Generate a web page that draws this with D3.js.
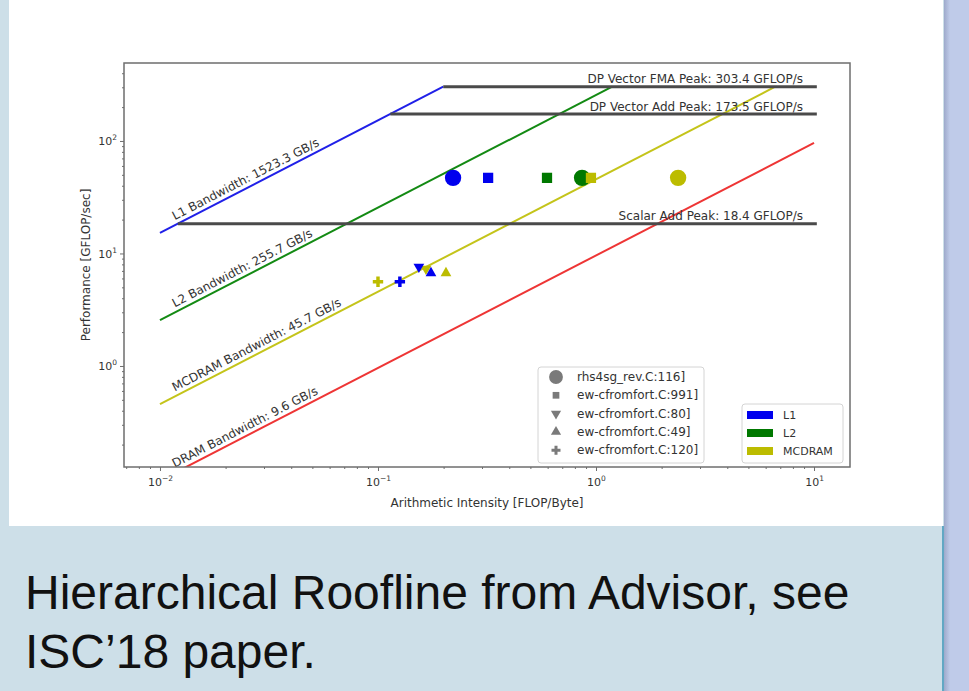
<!DOCTYPE html>
<html>
<head>
<meta charset="utf-8">
<script src="https://cdn.jsdelivr.net/npm/d3@7"></script>
<style>
  html, body { margin: 0; padding: 0; background: #cddfe8; }
  svg { display: block; }
</style>
</head>
<body>
<div id="main-container"></div>
<script>
// CEILINGS
const bwNames = ["L1", "L2", "MCDRAM", "DRAM"];
const bwValues = [1523.3, 255.7, 45.7, 9.6];
const peakNames = ["DP Vector FMA Peak", "DP Vector Add Peak", "Scalar Add Peak"];
const peakValues = [303.4, 173.5, 18.4];

// KERNELS (marker legend)
const kernelNames = ["rhs4sg_rev.C:116]", "ew-cfromfort.C:991]", "ew-cfromfort.C:80]",
    "ew-cfromfort.C:49]", "ew-cfromfort.C:120]"];

// MEASURED POINTS
const pointKernel = [0, 1, 1, 0, 1, 0, 4, 4, 2, 2, 3, 3];
const pointLevel = ["L1", "L1", "L2", "L2", "MCDRAM", "MCDRAM",
    "MCDRAM", "L1", "MCDRAM", "L1", "L1", "MCDRAM"];
const pointAI = [0.221, 0.32, 0.596, 0.863, 0.948, 2.38, 0.1, 0.126, 0.166, 0.154, 0.175, 0.205];
const pointPerf = [47, 47, 47, 47, 47, 47, 5.6, 5.6, 7.3, 7.6, 6.7, 6.7];

// level legend
const levelNames = ["L1", "L2", "MCDRAM"];

// AXES
const xTicks = [0.01, 0.1, 1, 10];
const yTicks = [1, 10, 100];
const captionLines = ["Hierarchical Roofline from Advisor, see", "ISC\u201918 paper."];

// COLOURS
const lineColor = d3.scaleOrdinal().domain(bwNames).range(["#2020e8", "#138a13", "#c4c41a", "#ee3535"]);
const markColor = d3.scaleOrdinal().domain(levelNames).range(["#0000ee", "#007800", "#bcbc00"]);
const shapes = [d3.symbolCircle, d3.symbolSquare, d3.symbolTriangle, d3.symbolTriangle, d3.symbolCross];
const shapeSize = [210, 105, 50, 50, 60];
const shapeRot = [0, 0, 180, 0, 0];

const W = 969, H = 691;
const plot = {left: 124, right: 850, top: 63, bottom: 467};
const fontSize = 12;

const svg = d3.select("#main-container").append("svg")
    .attr("width", W)
    .attr("height", H);

// page background pieces
svg.append("rect").attr("x", 0).attr("y", 0).attr("width", W).attr("height", H).attr("fill", "#cddfe8");
svg.append("rect").attr("x", 9).attr("y", 0).attr("width", 934).attr("height", 526).attr("fill", "#ffffff");
const grad = svg.append("defs").append("linearGradient").attr("id", "shadow");
grad.append("stop").attr("offset", "0%").attr("stop-color", "#9eaacb");
grad.append("stop").attr("offset", "100%").attr("stop-color", "#bfcbe9");
svg.append("rect").attr("x", 942).attr("y", 526).attr("width", 2).attr("height", H - 526).attr("fill", "#62a8c4");
svg.append("rect").attr("x", 944).attr("y", 0).attr("width", 6).attr("height", H).attr("fill", "url(#shadow)");
svg.append("rect").attr("x", 950).attr("y", 0).attr("width", W - 950).attr("height", H).attr("fill", "#bfcbe9");

// SCALES
const x = d3.scaleLog().domain([Math.pow(10, -2.165), Math.pow(10, 1.165)]).range([plot.left, plot.right]);
const y = d3.scaleLog().domain([Math.pow(10, -0.898), Math.pow(10, 2.693)]).range([plot.bottom, plot.top]);

svg.append("clipPath").attr("id", "plotclip")
    .append("rect")
    .attr("x", plot.left).attr("y", plot.top)
    .attr("width", plot.right - plot.left).attr("height", plot.bottom - plot.top);

const g = svg.append("g")
    .attr("font-family", "'DejaVu Sans', sans-serif")
    .attr("fill", "#333");

const lines = g.append("g").attr("clip-path", "url(#plotclip)");
const line = d3.line().x(d => x(d[0])).y(d => y(d[1]));

// bandwidth roofs
const xStart = 0.01, xEnd = 10;
bwValues.forEach((bw, i) => {
    const xr = Math.min(peakValues[0] / bw, xEnd);
    lines.append("path")
        .attr("d", line([[xStart, bw * xStart], [xr, bw * xr]]))
        .attr("fill", "none")
        .attr("stroke", lineColor(bwNames[i]))
        .attr("stroke-width", 2);
});

// compute peaks
peakValues.forEach(p => {
    const xs = p / bwValues[0];
    lines.append("path")
        .attr("d", line([[xs, p], [10.3, p]]))
        .attr("fill", "none")
        .attr("stroke", "#4a4a4a")
        .attr("stroke-width", 3);
});

// labels along the roofs
const angle = Math.atan2(y(10) - y(1), x(10) - x(1)) * 180 / Math.PI;
const labelX = 0.0117;
bwValues.forEach((bw, i) => {
    g.append("text")
        .attr("transform", `translate(${x(labelX)},${y(bw * labelX) - 5}) rotate(${angle})`)
        .attr("font-size", fontSize)
        .text(`${bwNames[i]} Bandwidth: ${bw.toFixed(1)} GB/s`);
});
peakValues.forEach((p, i) => {
    g.append("text")
        .attr("x", x(8.9))
        .attr("y", y(p) - 3.5)
        .attr("text-anchor", "end")
        .attr("font-size", fontSize)
        .text(`${peakNames[i]}: ${p.toFixed(1)} GFLOP/s`);
});

// POINTS
const pts = pointAI.map((ai, i) => ({ai: ai, perf: pointPerf[i], k: pointKernel[i], lvl: pointLevel[i]}));
g.append("g").selectAll("path")
    .data(pts)
    .enter().append("path")
    .attr("transform", d => `translate(${x(d.ai)},${y(d.perf)}) rotate(${shapeRot[d.k]})`)
    .attr("d", d => d3.symbol().type(shapes[d.k]).size(shapeSize[d.k])())
    .attr("fill", d => markColor(d.lvl));

// FRAME + AXES
g.append("rect")
    .attr("x", plot.left).attr("y", plot.top)
    .attr("width", plot.right - plot.left).attr("height", plot.bottom - plot.top)
    .attr("fill", "none").attr("stroke", "#6e6e6e").attr("stroke-width", 1.5);

function minors(scale) {
    const [a, b] = scale.domain();
    const out = [];
    for (let e = Math.floor(Math.log10(a)); e <= Math.ceil(Math.log10(b)); e++) {
        for (let m = 2; m <= 9; m++) {
            const v = m * Math.pow(10, e);
            if (v > a && v < b) out.push(v);
        }
    }
    return out;
}

function styleAxis(sel) {
    sel.select(".domain").remove();
    sel.selectAll("line").attr("stroke", "#6e6e6e");
}

g.append("g").attr("transform", `translate(0,${plot.bottom})`)
    .call(d3.axisBottom(x).tickValues(minors(x)).tickSize(2).tickFormat(""))
    .call(styleAxis);
const xAx = g.append("g").attr("transform", `translate(0,${plot.bottom})`)
    .call(d3.axisBottom(x).tickValues(xTicks).tickSize(4).tickFormat(""))
    .call(styleAxis);
g.append("g").attr("transform", `translate(${plot.left},0)`)
    .call(d3.axisLeft(y).tickValues(minors(y)).tickSize(2).tickFormat(""))
    .call(styleAxis);
const yAx = g.append("g").attr("transform", `translate(${plot.left},0)`)
    .call(d3.axisLeft(y).tickValues(yTicks).tickSize(4).tickFormat(""))
    .call(styleAxis);

function powLabel(sel, v) {
    const e = Math.round(Math.log10(v));
    sel.append("tspan").attr("font-size", 11).text("10");
    sel.append("tspan").attr("font-size", 7.5).attr("dy", -5)
        .text(e < 0 ? "\u2212" + (-e) : String(e));
}
xAx.selectAll(".tick").each(function(d) {
    d3.select(this).append("text")
        .attr("y", 19).attr("text-anchor", "middle").attr("fill", "#333")
        .attr("font-family", "'DejaVu Sans', sans-serif")
        .call(powLabel, d);
});
yAx.selectAll(".tick").each(function(d) {
    d3.select(this).append("text")
        .attr("x", -7).attr("y", 4).attr("text-anchor", "end").attr("fill", "#333")
        .attr("font-family", "'DejaVu Sans', sans-serif")
        .call(powLabel, d);
});

g.append("text")
    .attr("x", (plot.left + plot.right) / 2).attr("y", 507)
    .attr("text-anchor", "middle").attr("font-size", fontSize)
    .text("Arithmetic Intensity [FLOP/Byte]");
g.append("text")
    .attr("transform", `translate(90,${(plot.top + plot.bottom) / 2}) rotate(-90)`)
    .attr("text-anchor", "middle").attr("font-size", fontSize)
    .text("Performance [GFLOP/sec]");

// LEGEND: kernels
const leg1 = g.append("g").attr("transform", "translate(538,367)");
leg1.append("rect").attr("width", 166).attr("height", 96).attr("rx", 3)
    .attr("fill", "#fff").attr("fill-opacity", 0.85).attr("stroke", "#d4d4d4");
kernelNames.forEach((name, i) => {
    const row = leg1.append("g").attr("transform", `translate(0,${10 + i * 18.3})`);
    row.append("path")
        .attr("transform", `translate(18,0) rotate(${shapeRot[i]})`)
        .attr("d", d3.symbol().type(shapes[i]).size(i === 0 ? 150 : 45)())
        .attr("fill", "#7a7a7a");
    row.append("text").attr("x", 39).attr("y", 4).attr("font-size", fontSize).text(name);
});

// LEGEND: memory levels
const leg2 = g.append("g").attr("transform", "translate(742,404)");
leg2.append("rect").attr("width", 101).attr("height", 59).attr("rx", 3)
    .attr("fill", "#fff").attr("fill-opacity", 0.85).attr("stroke", "#d4d4d4");
levelNames.forEach((name, i) => {
    const row = leg2.append("g").attr("transform", `translate(0,${11 + i * 18})`);
    row.append("rect").attr("x", 5).attr("y", -4).attr("width", 26).attr("height", 8)
        .attr("fill", markColor(name));
    row.append("text").attr("x", 41).attr("y", 4).attr("font-size", fontSize - 1).text(name);
});

// CAPTION
svg.append("g").selectAll("text")
    .data(captionLines)
    .enter().append("text")
    .attr("x", 25)
    .attr("y", (d, i) => 609 + i * 59)
    .attr("font-family", "'Liberation Sans', Arial, sans-serif")
    .attr("font-size", 48)
    .attr("fill", "#111")
    .text(d => d);
</script>
</body>
</html>
